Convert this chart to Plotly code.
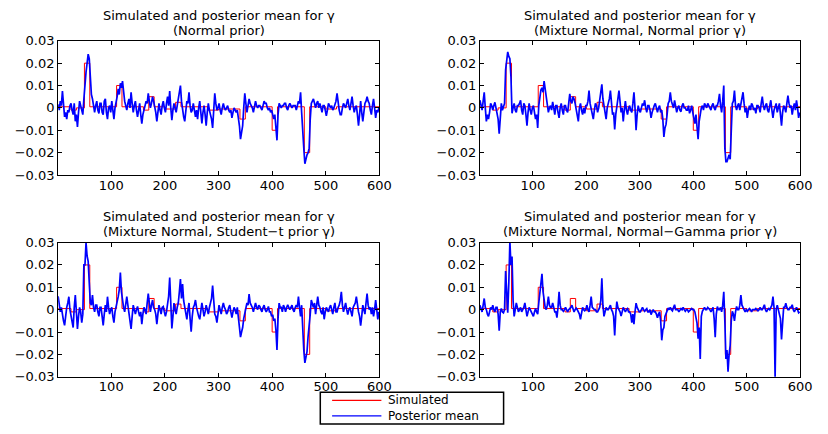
import numpy as np
import plotly.graph_objects as go

# Observation indices: posterior means are kept on every 2nd observation,
# stored as two interleaved sets (1, 5, 9, ...) and (3, 7, 11, ...)
obs_a = np.arange(1, 600, 4)
obs_b = np.arange(3, 600, 4)

# Simulated gamma: piecewise-constant path (segment start, level in 1e-3)
sim_start = [1, 25, 35, 50, 60, 110, 120, 160, 170, 180, 200, 220, 230,
             280, 300, 340, 350, 400, 410, 460, 470, 500, 520, 600]
sim_level = [0.5, -1, 0, 20, 0.5, 10, 0.5, -1, 5, 0.5, -0.5, 2.5, 0.5,
             -1, -0.5, -5, 0.5, -10, 0.5, -20, 0.5, -0.5, 0.5, 0.5]

# Posterior means of gamma (in 1e-3), Normal prior
post_normal_a = [
    1.5, 3, 7.5, -4, -5, -2, 2, -3, -6, -8.5,
    3, -2, 4, 16, 24, 12, 4, -2, 3, -2.5,
    2, -3, 4, -5, 1, 3, -5, 2, 8.5, 11,
    12, 3, -1, 4, 7, -2, 3, -4, 2, -7,
    -1, 3, 6.5, 0, 5, 1, -6, 2, -3, 3,
    -2, 5, 7.5, -5.5, 2, -2, 4, 10, -1, -6,
    3, 7, -2, 2, -4, -5, 3, -7, 1, -8,
    2, -3, -9, 6.5, -1, 2, -3, 2, -1, 1,
    -2, -4.5, 0, -2, -4, -14, -8, 6.5, -2, 4,
    1, -2, 3, 0, 1, -1, 3, 2, -1, -2,
    -4, -3, -14.5, 2, 0, 1, 2, -1, 2, 0,
    1, -1, 3, 7, -8, -25, -21, -18, 2, 4,
    0, 3, 2, -2, 1, -3.5, 2, 0, -1, 2,
    6.5, -1, -3, 2, 0, 4, -1, 5, -2, 1,
    -8, 3, -6, 2, 5, 2, -3, 4, -4.5, -2,
]
post_normal_b = [
    -1, 1, 2, -2, -1, 1, -1, 2, -3, -2,
    1, -3, 12, 20, 22, 6, 0, 1, -1, 2,
    -2, 3, -2, 0, -2, -1, 0, 5, 6, 9,
    6, 1, 2, 0, 2, 1, -1, -1, -3, -3,
    1, 2, 3, 2, 3, -2, -1, -1, 1, 0,
    2, 1, 0, -1, 0, 1, 6, 3, -4, -1,
    2, 1, -1, -1, -1, 0, -2, -2, -3, -2,
    -1, -5, 1, 2, 0, -1, 0, 0, 0, -1,
    -1, -2, -1, -1, -8, -10, 0, 2, 1, 2,
    0, 1, 1, 1, 0, 1, 2, 0, 0, -1,
    -5, -9, -3, 1, 1, 2, 0, 1, 1, 1,
    1, 2, 2, -2, -18, -22, -20, -5, 3, 2,
    2, 0, 0, 1, -1, -1, 1, 1, 0, 3,
    2, -3, 0, 1, 2, 1, 2, 1, 0, -3,
    -3, -2, -2, 3, 3, -1, 1, 0, -1, 0,
]

# Mixture Normal, Normal prior gamma
post_mix_normal_a = [
    3.4, -1, 7, -6, -5, 2, -1, 2.5, -2, -11.5,
    2, 0.5, 17, 25, 22, -2.4, 2, -2, 1, 3.4,
    -3, 1, -8, 2, -3, 1, -5, -9, 5, 9,
    12, 4, -2, 1, 2.7, -3, 1, -4.5, 2, -3,
    1, -2, 6.3, 2, 4, -1, -6, 2, -3, -2.4,
    1, 7.7, -1, -5, 2, -2, 3, 10.5, 1, -5,
    2, 7.7, -3, -9.6, 2, 7.7, -2, -6, 3, -3,
    1, -2, 7, -10, 1, -2, 2, 3.4, -2, 1,
    -4.5, 0, 2, -2, 1, -1, -13, -7.4, 2, 7,
    1, 3.4, -2, 1, -1.7, 2, 0, -1, -2.4, 1,
    -5, -3, -14, -2, 1, 2, 0, 1, -1, 2,
    -1, 1, 6.3, -2, 10, -24, -22.5, -23, 2, 7.7,
    -1, 2, 2, 7, -2, -4.5, 1, 2, -1, -2.4,
    1, -2, 5, -1, 2, -2, 3.4, -4.5, 1, -2,
    2, -8, 1, -2, 5.5, 0, -3, 2, 3.4, -4.5,
]
post_mix_normal_b = [
    1, 3, 0, -3, -2, 1, 1, 0, -5, -4,
    -1, 2, 21, 23, 14, 0, -1, 1, 2, -1,
    2, -3, -2, -1, 0, -2, -3, 1, 8, 7,
    8, 1, 0, -1, 0, 1, -2, 0, -1, 1,
    -1, 2, 3, 5, 2, -2, 0, -1, 0, 1,
    3, 2, -2, -1, 1, 0, 6, 4, -2, 0,
    4, 1, -2, -3, 4, 1, 0, -1, -1, 0,
    -1, 2, 0, -3, -1, 0, 1, 0, 1, -1,
    -2, 1, -1, 0, -2, -5, -9, -3, 3, 3,
    0, 1, 0, -1, 1, 0, -1, 1, -1, -2,
    -7, -10, -6, 0, -1, 1, 2, 0, 1, 0,
    1, 3, 1, 3, -18, -24, -21, -6, 3, 1,
    1, -1, 4, 2, 0, -1, -1, 1, 0, 1,
    0, 2, 1, 1, -1, 1, -1, -1, 2, 1,
    -3, -2, 0, 2, 2, 1, 0, -1, 0, -2,
]

# Mixture Normal, Student-t prior gamma
post_mix_student_a = [
    6, -1, -3.6, -7, 1, 5.8, -3, -8, 6.5, -8.6,
    1, -5.8, 20, 30, 21.6, 3, 6.5, -1, 2, -3,
    1, -7, 2, 5.8, -2, 1, -5.8, 1, 5.8, 16.6,
    3, -1, 5.8, -2, -8.6, 2, -2, 1.4, -3, -6.5,
    1, -2, 7.2, -1, 4.3, 0, -6.5, 2, -2, 1.4,
    -3, 2, 14.4, -8.4, 2.9, -2, 3, 13.7, 11.5, 1.4,
    -4.3, 3, -9.8, 1, 4.3, -2, -4.3, 3, -3, 2,
    -2, 3, 10.8, -2, -5.8, 2, -2, 3, 0, -1,
    2, -3.6, 1, -2, -3, -12.3, -8, -2, 3, 7,
    2, -1, 3, 0, 1.4, -1, 2, -1, 1.4, -1,
    -2.2, -4, -18, 2.9, 1, 2, -1, 2.2, 0, 2,
    -1, 2, 5.8, -3, -10, -23.8, -18.8, -8, 4.3, 1,
    -2, 5.8, 1, -2, -4.3, 1, -1, 2, -2, 3,
    -1, 2, 8, -1, 3, -2.2, 1, -3, 2, 5.8,
    -1, -7.2, 2, -2, 7.2, 0, -2, -3, 4.3, -4.3,
]
post_mix_student_b = [
    2, 1, -5, -2, 3, 0, -5, 1, -1, -3,
    -1, -2, 20, 24, 12, 2, 1, 2, -1, 1,
    -3, -2, -1, 1, 0, -3, -1, 3, 9, 8,
    1, 3, 2, -4, -3, 0, 0, -1, -1, -2,
    0, 3, 3, 2, 1, -2, -2, 0, 1, -1,
    -1, 6, 3, -3, 0, 1, 8, 5, 4, -2,
    0, -4, -3, 2, 1, -3, 0, 0, -1, 0,
    1, 5, 3, -3, -2, 0, 1, 1, -2, 1,
    -1, -1, 0, 1, -6, -10, -4, 1, 2, 3,
    1, 1, 1, 2, 0, 1, 0, 0, -1, -3,
    -5, -9, -4, 1, -1, 1, 1, 1, 1, 0,
    1, 1, 1, 2, -18, -20, -12, -2, 2, 3,
    2, 2, -1, 1, -1, 0, 1, 0, 1, -1,
    1, 4, 2, 1, 0, 0, -1, 1, 3, 1,
    -3, -3, 0, 3, 2, 1, 1, 0, 0, -1,
]

# Mixture Normal, Normal-Gamma prior gamma
post_mix_ngamma_a = [
    2, -1, 5, 0, -3, 1, 2, -1, 1, -9.4,
    0.5, -1.4, 17.3, -1.4, 30.5, 23.8, -3, 3, -1, 1,
    0, 3, -3, 1, -1, -3, 0.5, -2, 7, 16,
    4.3, 0, 5.8, 1, 3, -1, -3.6, 8, 0, -0.7,
    1, -1, 0.5, 2, -1, 0.7, -1, -4.3, 1, -0.5,
    2, -1, 5.8, 0.5, 0, -1, 1, 14, -3, 1,
    0, 2, -1, -11.5, 3.6, 0, -2.9, 1, -1, 0.5,
    -1, -5.8, -6.5, 2.9, 0, -1, 1, -0.7, 0.5, -1,
    -2.2, 0, -1, -3.6, -1, -13.7, -8, -2, 0.7, 1,
    -0.5, 2.2, 0, -1, 0.5, 1, -0.7, 0, -0.5, 0.5,
    0, -2.9, -13, -22, -0.7, 1, 0, 0.5, -1, 1,
    -12.3, 1.4, 0, -1, 8, -22, -27.7, -15.9, -0.7, -5,
    1.4, 0, 6.5, 1, -1, -0.7, 0.5, -1, 0, 0.5,
    -0.5, 1, 0, 2.2, -1, 0.5, 1, 5.8, -30.5, 2,
    -1, -13.3, 1, 2.9, 0, 1, 2.2, -1, 1, -1.4,
]
post_mix_ngamma_b = [
    0, 2, 1, -2, -1, 0, 0, 1, -2, -1,
    -1, 0, 8, 12, 20, 4, 0, 1, 0, -1,
    1, 0, -1, 0, -2, -1, -1, 3, 10, 8,
    1, 2, 2, 1, 0, -1, 1, 2, 0, 0,
    0, 0, 1, 0, 0, 0, -2, -1, 0, 0,
    0, 2, 1, 0, -1, 0, 4, 2, -1, 0,
    1, 0, -3, -2, 1, -1, -1, 0, 0, -1,
    -2, -2, -1, 1, -1, 0, 0, 0, -1, 0,
    -1, -1, -2, -2, -5, -9, -3, -1, 0, 0,
    1, 0, 0, 0, 0, 0, 0, -1, 0, 0,
    -1, -6, -8, -3, 0, 0, 1, 0, 0, -4,
    -2, 0, 1, 2, -5, -18, -20, -5, -2, -1,
    0, 2, 2, 0, 0, 0, 0, 0, 0, 0,
    0, 0, 1, 0, 0, 0, 2, 1, 0, 0,
    -4, -3, 1, 1, 0, 1, 0, 0, 0, -1,
]

subtitles = [
    "(Normal prior)",
    "(Mixture Normal, Normal prior \u03b3)",
    "(Mixture Normal, Student\u2212t prior \u03b3)",
    "(Mixture Normal, Normal\u2212Gamma prior \u03b3)",
]
main_title = "Simulated and posterior mean for \u03b3"
legend_names = ["Simulated", "Posterior mean"]

y_ticks = [-0.03, -0.02, -0.01, 0, 0.01, 0.02, 0.03]
y_tick_text = ["\u22120.03", "\u22120.02", "\u22120.01", "0", "0.01", "0.02", "0.03"]
x_ticks = [100, 200, 300, 400, 500, 600]

W, H = 828, 434
FONT = "DejaVu Sans"
RED, BLUE = "#ff0000", "#0000ff"

# Plot-area boxes in pixels: (left, right, top, bottom)
boxes = [(59, 385, 35, 174), (487, 812, 35, 174),
         (59, 385, 244, 383), (487, 812, 244, 383)]
# Vertical pixel centres of the two title lines of each panel
title_rows = [(8.5, 24.5), (8.5, 24.5), (216.5, 232.5), (216.5, 232.5)]

series = [(post_normal_a, post_normal_b),
          (post_mix_normal_a, post_mix_normal_b),
          (post_mix_student_a, post_mix_student_b),
          (post_mix_ngamma_a, post_mix_ngamma_b)]
scale = 1e-3

obs_all = np.concatenate([obs_a, obs_b])
order = np.argsort(obs_all)

fig = go.Figure()
layout_axes = {}
annotations = []
shapes = []

for k, ((va, vb), box, rows, sub) in enumerate(zip(series, boxes, title_rows, subtitles)):
    n = "" if k == 0 else str(k + 1)
    xa, ya = "x" + n, "y" + n
    vals = np.concatenate([va, vb])[order] * scale
    fig.add_trace(go.Scatter(
        x=sim_start, y=np.array(sim_level) * scale, xaxis=xa, yaxis=ya,
        mode="lines", line=dict(color=RED, width=1, shape="hv"),
        name=legend_names[0], showlegend=False,
    ))
    fig.add_trace(go.Scatter(
        x=obs_all[order], y=vals, xaxis=xa, yaxis=ya,
        mode="lines", line=dict(color=BLUE, width=1.7),
        name=legend_names[1], showlegend=False,
    ))
    l, r, t, b = box
    common = dict(
        showline=True, linecolor="black", linewidth=1, mirror="ticks",
        ticks="inside", ticklen=4, tickcolor="black", tickwidth=1,
        showgrid=False, zeroline=False,
        tickfont=dict(family=FONT, size=13, color="black"),
    )
    layout_axes["xaxis" + n] = dict(
        domain=[l / W, r / W], anchor=ya, range=[1, 600],
        tickvals=x_ticks, ticklabelstandoff=-2, **common)
    layout_axes["yaxis" + n] = dict(
        domain=[1 - b / H, 1 - t / H], anchor=xa, range=[-0.03, 0.03],
        tickvals=y_ticks, ticktext=y_tick_text, **common)
    cx = (l + r) / 2 / W
    for text, py in zip([main_title, sub], rows):
        annotations.append(dict(
            text=text, x=cx, y=1 - py / H, xref="paper", yref="paper",
            xanchor="center", yanchor="middle", showarrow=False,
            font=dict(family=FONT, size=13, color="black"),
        ))

# Legend box below the panels: frame, key lines and labels
lg_l, lg_r, lg_t, lg_b = 325, 511, 399, 432
shapes.append(dict(type="rect", xref="paper", yref="paper",
                   x0=lg_l / W, x1=lg_r / W, y0=1 - lg_b / H, y1=1 - lg_t / H,
                   line=dict(color="black", width=1.5), fillcolor="white"))
for name, color, py in zip(legend_names, [RED, BLUE], [407.5, 423.5]):
    shapes.append(dict(type="line", xref="paper", yref="paper",
                       x0=337 / W, x1=387 / W, y0=1 - py / H, y1=1 - py / H,
                       line=dict(color=color, width=1.2)))
    annotations.append(dict(
        text=name, x=392 / W, y=1 - py / H, xref="paper", yref="paper",
        xanchor="left", yanchor="middle", showarrow=False,
        font=dict(family=FONT, size=12, color="black"),
    ))

fig.update_layout(
    width=W, height=H, margin=dict(l=0, r=0, t=0, b=0),
    paper_bgcolor="white", plot_bgcolor="white",
    showlegend=False, annotations=annotations, shapes=shapes,
    **layout_axes,
)

fig.write_html("out.html")
